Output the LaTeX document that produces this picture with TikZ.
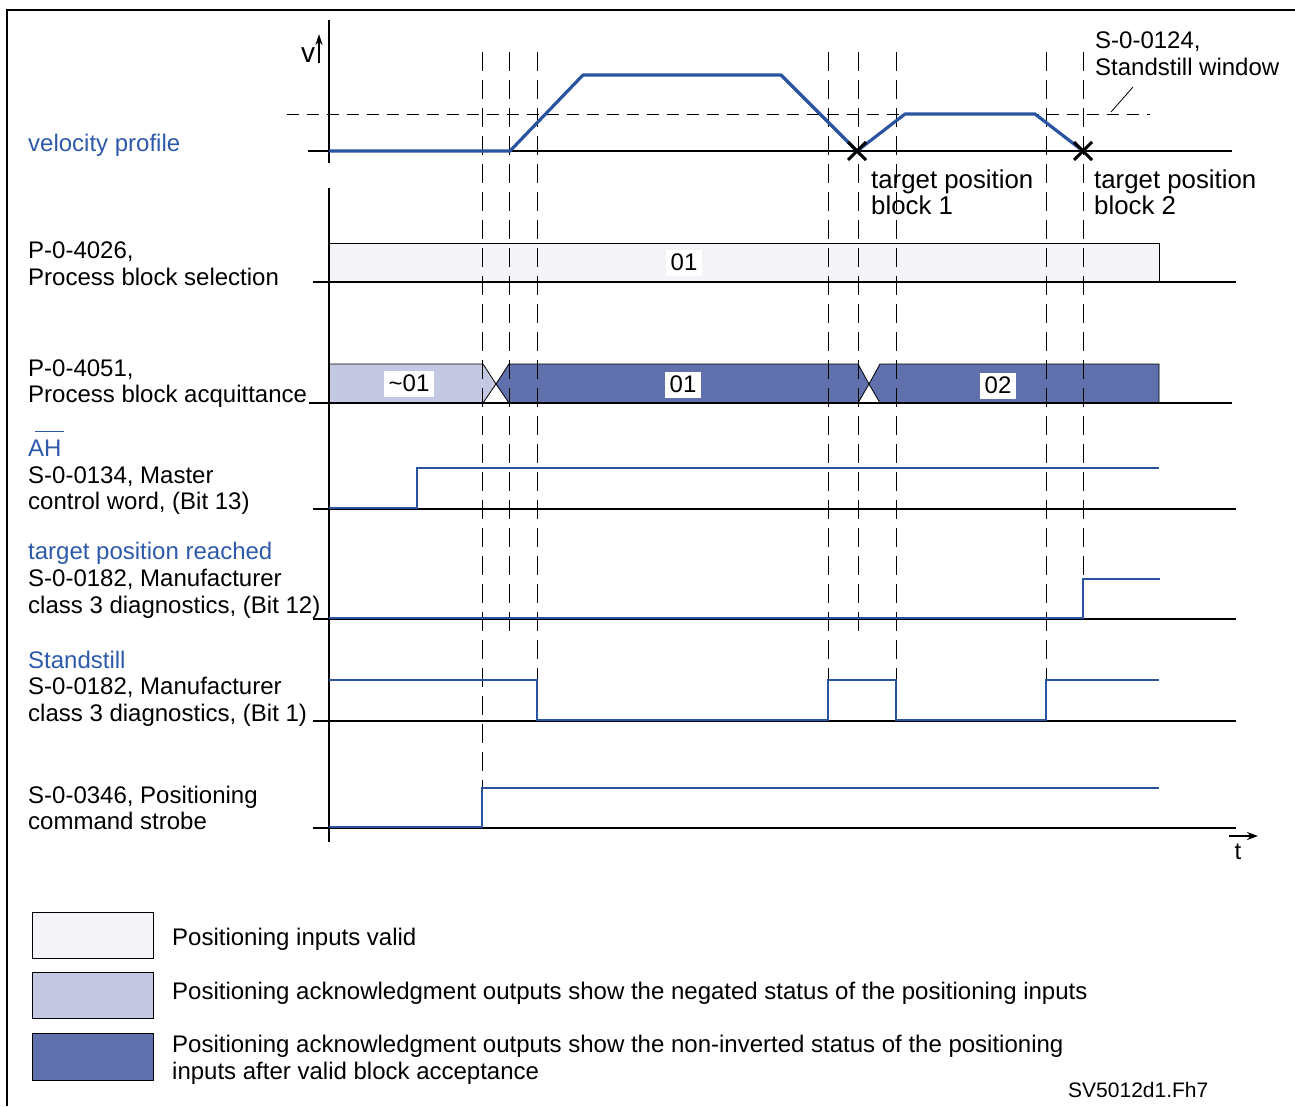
\documentclass[tikz,border=0pt]{standalone}
\usepackage{fontspec}
\setmainfont{Liberation Sans}
\usetikzlibrary{arrows.meta}
\definecolor{sigblue}{RGB}{42,84,160}
\definecolor{lblblue}{RGB}{46,90,170}
\definecolor{fillA}{RGB}{244,244,248}
\definecolor{fillB}{RGB}{197,200,226}
\definecolor{fillC}{RGB}{95,112,173}
\newcommand\lblfont{\fontsize{24}{27}\selectfont}
\newcommand\annfont{\fontsize{25.8}{27}\selectfont}
\newcommand\notefont{\fontsize{21}{24}\selectfont}
\begin{document}
\begin{tikzpicture}[x=1pt,y=-1pt,
  lbl/.style={anchor=base west,inner sep=0pt,font=\lblfont},
  ann/.style={lbl,font=\annfont},
  bluelbl/.style={lbl,text=lblblue},
  val/.style={anchor=base,fill=white,inner xsep=5pt,inner ysep=3pt,text height=17pt,text depth=3pt,font=\lblfont},
  base/.style={line width=2pt,black},
  sig/.style={line width=2.4pt,sigblue},
  vel/.style={line width=3.2pt,sigblue,line join=round},
  guide/.style={line width=1pt,dash pattern=on 19pt off 9pt},
  window/.style={line width=1pt,dash pattern=on 12pt off 8pt},
  bar/.style={line width=0.8pt,draw=black},
  xmark/.style={line width=3pt},
  legbox/.style={draw=black,line width=0.8pt}]
\useasboundingbox (0,0) rectangle (1295,1106);
\fill[white] (0,0) rectangle (1295,1106);

% outer frame
\draw[line width=2pt] (7,1106) -- (7,10) -- (1295,10);

% signal bars
\path[bar,fill=fillA] (329,243) rectangle (1159,282);
\path[bar,fill=fillB] (329,364) -- (483,364) -- (496,384) -- (483,403) -- (329,403) -- cycle;
\path[bar,fill=fillC] (509,364) -- (858,364) -- (869,384) -- (858,403) -- (509,403) -- (496,384) -- cycle;
\path[bar,fill=fillC] (880,364) -- (1159,364) -- (1159,403) -- (880,403) -- (869,384) -- cycle;

% vertical time markers
\draw[guide] (482,52) -- (482,790);
\foreach \x in {509,858} \draw[guide] (\x,52) -- (\x,631);
\foreach \x in {537,828,896,1046} \draw[guide] (\x,52) -- (\x,682);
\draw[guide] (1083,52) -- (1083,580);

% standstill window
\draw[window] (287,114) -- (1150,114);
\draw[line width=0.8pt] (1133,87) coordinate (wtop) -- (1111,112) coordinate (wbot);

% axes
\draw[base] (329,20) -- (329,163);
\draw[base] (329,188) -- (329,842);
\draw[base] (308,151) -- (1232,151);
\draw[line width=1.6pt,-{Stealth[length=11pt,width=7pt]}] (319,63) -- (319,34);
\draw[line width=1.6pt,-{Stealth[length=11pt,width=8pt]}] (1229,836) -- (1258,836);

% row baselines
\draw[base] (313,282) -- (1236,282);
\draw[base] (309,403) -- (1232,403);
\draw[base] (313,509) -- (1236,509);
\draw[base] (313,619) -- (1236,619);
\draw[base] (313,721) -- (1236,721);
\draw[base] (313,828) -- (1236,828);

% velocity profile
\draw[vel] (329,151) -- (510,151) -- (583,75) -- (781,75) -- (857,151)
  -- (905,114) -- (1035,114) -- (1083,151);
\draw[xmark] (848,142) -- (866,160) (848,160) -- (866,142);
\draw[xmark] (1074,142) -- (1092,160) (1074,160) -- (1092,142);

% digital signals
\draw[sig] (329,508) -- (417,508) -- (417,468) -- (1159,468);
\draw[sig] (329,618) -- (1083,618) -- (1083,579) -- (1160,579);
\draw[sig] (329,680) -- (537,680) -- (537,720) -- (828,720) -- (828,680)
  -- (896,680) -- (896,720) -- (1046,720) -- (1046,680) -- (1159,680);
\draw[sig] (329,827) -- (482,827) -- (482,788) -- (1159,788);

% values inside the bars
\node[val] (sel01) at (684,270) {01};
\node[val] (acqn01) at (409,391) {\textasciitilde 01};
\node[val] (acq01) at (683,392) {01};
\node[val] (acq02) at (998,393) {02};

% axis letters
\node[lbl,font=\fontsize{28}{30}\selectfont] (vlabel) at (301,62) {v};
\node[lbl,anchor=base] (tlabel) at (1238,859) {t};

% row labels
\node[bluelbl] (velprof) at (28,151) {velocity profile};
\node[lbl] (sel1) at (28,258) {P-0-4026,};
\node[lbl] (sel2) at (28,285) {Process block selection};
\node[lbl] (acq1) at (28,376) {P-0-4051,};
\node[lbl] (acq2) at (28,402) {Process block acquittance};
\node[bluelbl] (ah) at (28,456) {AH};
\draw[lblblue,line width=1pt] (35,431) -- (64,431);
\node[lbl] (ah1) at (28,483) {S-0-0134, Master};
\node[lbl] (ah2) at (28,509) {control word, (Bit 13)};
\node[bluelbl] (tpr) at (28,559) {target position reached};
\node[lbl] (tpr1) at (28,586) {S-0-0182, Manufacturer};
\node[lbl] (tpr2) at (28,613) {class 3 diagnostics, (Bit 12)};
\node[bluelbl] (sst) at (28,668) {Standstill};
\node[lbl] (sst1) at (28,694) {S-0-0182, Manufacturer};
\node[lbl] (sst2) at (28,721) {class 3 diagnostics, (Bit 1)};
\node[lbl] (stb1) at (28,803) {S-0-0346, Positioning};
\node[lbl] (stb2) at (28,829) {command strobe};

% annotations
\node[lbl] (win1) at (1095,48) {S-0-0124,};
\node[lbl] (win2) at (1095,75) {Standstill window};
\node[ann] (tp1a) at (871,188) {target position};
\node[ann] (tp1b) at (871,214) {block 1};
\node[ann] (tp2a) at (1094,188) {target position};
\node[ann] (tp2b) at (1094,214) {block 2};

% legend
\path[legbox,fill=fillA] (32,912) rectangle (153,958);
\path[legbox,fill=fillB] (32,972) rectangle (153,1018);
\path[legbox,fill=fillC] (32,1033) rectangle (153,1080);
\node[lbl] (leg1) at (172,945) {Positioning inputs valid};
\node[lbl] (leg2) at (172,999) {Positioning acknowledgment outputs show the negated status of the positioning inputs};
\node[lbl] (leg3a) at (172,1052) {Positioning acknowledgment outputs show the non-inverted status of the positioning};
\node[lbl] (leg3b) at (172,1079) {inputs after valid block acceptance};
\node[anchor=base west,inner sep=0pt,font=\notefont] (fig) at (1068,1097) {SV5012d1.Fh7};
\end{tikzpicture}
\end{document}
